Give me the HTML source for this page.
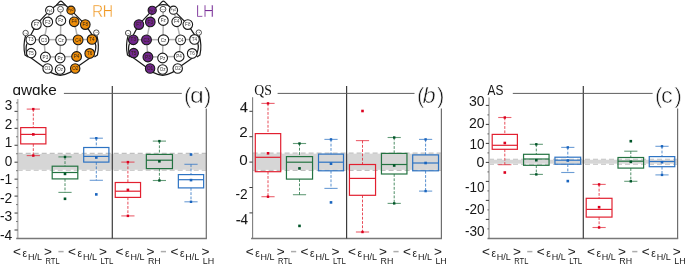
<!DOCTYPE html>
<html><head><meta charset="utf-8"><title>figure</title>
<style>html,body{margin:0;padding:0;background:#fff;}svg{display:block;will-change:transform;}</style>
</head><body>
<svg width="685" height="265" viewBox="0 0 685 265">
<rect width="685" height="265" fill="#fff"/>
<g transform="translate(0.00,0)">
<line x1="30.80" y1="39.80" x2="92.00" y2="39.40" stroke="rgb(178,178,178)" stroke-width="1.5" fill="none"/>
<line x1="60.80" y1="20.50" x2="60.10" y2="58.00" stroke="rgb(178,178,178)" stroke-width="1.5" fill="none"/>
<line x1="47.80" y1="21.90" x2="44.00" y2="39.90" stroke="rgb(178,178,178)" stroke-width="1.5" fill="none"/>
<line x1="44.00" y1="39.90" x2="45.40" y2="57.00" stroke="rgb(178,178,178)" stroke-width="1.5" fill="none"/>
<line x1="74.20" y1="21.80" x2="78.10" y2="39.90" stroke="rgb(178,178,178)" stroke-width="1.5" fill="none"/>
<line x1="78.10" y1="39.90" x2="76.60" y2="56.50" stroke="rgb(178,178,178)" stroke-width="1.5" fill="none"/>
<line x1="45.40" y1="57.00" x2="76.60" y2="56.50" stroke="rgb(178,178,178)" stroke-width="1.5" fill="none"/>
<line x1="49.70" y1="10.30" x2="47.80" y2="21.90" stroke="rgb(178,178,178)" stroke-width="1.5" fill="none"/>
<line x1="71.00" y1="10.20" x2="74.20" y2="21.80" stroke="rgb(178,178,178)" stroke-width="1.5" fill="none"/>
<line x1="60.50" y1="9.20" x2="60.80" y2="20.50" stroke="rgb(178,178,178)" stroke-width="1.5" fill="none"/>
<path d="M30.8,35 L36.4,24.6 L49.7,10.3 L56.4,5.2 L59.4,1.8 Q60.85,0.3 62.3,1.8 L65.5,5.2 L71,10.2 L85.3,24.6 L92,34.6" stroke="rgb(25,25,25)" stroke-width="1.2" fill="none" stroke-linejoin="round"/>
<path d="M56.4,5.2 Q60.9,4.0 65.5,5.2" stroke="rgb(25,25,25)" stroke-width="1.2" fill="none" stroke-linejoin="round"/>
<path d="M27,43.5 Q25.2,48 27,55 L43.5,67 Q50,74 60.2,75.3 Q70.5,74 77,67 L93.5,55.5 Q97,48 95.2,43" stroke="rgb(25,25,25)" stroke-width="1.2" fill="none" stroke-linejoin="round"/>
<path d="M25.6,35.5 C23.8,42 23.8,50 25,55 L28,57" stroke="rgb(25,25,25)" stroke-width="1.2" fill="none" stroke-linejoin="round"/>
<path d="M96.8,35.5 C98.6,42 98.6,50 97.4,55 L94.4,57" stroke="rgb(25,25,25)" stroke-width="1.2" fill="none" stroke-linejoin="round"/>
<circle cx="49.70" cy="10.30" r="4.10" fill="white" stroke="rgb(25,25,25)" stroke-width="1.10"/>
<text x="49.70" y="11.52" font-size="3.4" text-anchor="middle" fill="rgb(60,60,60)" font-family='Liberation Sans'>Fp1</text>
<circle cx="60.50" cy="9.20" r="2.90" fill="white" stroke="rgb(25,25,25)" stroke-width="0.75"/>
<text x="60.50" y="9.92" font-size="2.0" text-anchor="middle" fill="rgb(60,60,60)" font-family='Liberation Sans'>Fpz</text>
<circle cx="71.00" cy="10.20" r="4.10" fill="rgb(238,142,10)" stroke="rgb(25,25,25)" stroke-width="1.10"/>
<text x="71.00" y="11.42" font-size="3.4" text-anchor="middle" fill="rgb(50,35,20)" font-family='Liberation Sans'>Fp2</text>
<circle cx="36.40" cy="24.60" r="4.80" fill="white" stroke="rgb(25,25,25)" stroke-width="1.10"/>
<text x="36.40" y="26.26" font-size="4.6" text-anchor="middle" fill="rgb(60,60,60)" font-family='Liberation Sans'>F7</text>
<circle cx="47.80" cy="21.90" r="4.80" fill="white" stroke="rgb(25,25,25)" stroke-width="1.10"/>
<text x="47.80" y="23.56" font-size="4.6" text-anchor="middle" fill="rgb(60,60,60)" font-family='Liberation Sans'>F3</text>
<circle cx="60.80" cy="20.50" r="4.90" fill="white" stroke="rgb(25,25,25)" stroke-width="1.10"/>
<text x="60.80" y="22.16" font-size="4.6" text-anchor="middle" fill="rgb(60,60,60)" font-family='Liberation Sans'>Fz</text>
<circle cx="74.20" cy="21.80" r="4.80" fill="rgb(238,142,10)" stroke="rgb(25,25,25)" stroke-width="1.10"/>
<text x="74.20" y="23.46" font-size="4.6" text-anchor="middle" fill="rgb(50,35,20)" font-family='Liberation Sans'>F4</text>
<circle cx="85.30" cy="24.60" r="4.80" fill="rgb(238,142,10)" stroke="rgb(25,25,25)" stroke-width="1.10"/>
<text x="85.30" y="26.26" font-size="4.6" text-anchor="middle" fill="rgb(50,35,20)" font-family='Liberation Sans'>F8</text>
<circle cx="25.60" cy="33.00" r="2.70" fill="white" stroke="rgb(25,25,25)" stroke-width="0.75"/>
<text x="25.60" y="33.72" font-size="2.0" text-anchor="middle" fill="rgb(60,60,60)" font-family='Liberation Sans'>A1</text>
<circle cx="96.30" cy="32.60" r="2.70" fill="white" stroke="rgb(25,25,25)" stroke-width="0.75"/>
<text x="96.30" y="33.32" font-size="2.0" text-anchor="middle" fill="rgb(60,60,60)" font-family='Liberation Sans'>A2</text>
<circle cx="30.80" cy="39.80" r="4.80" fill="white" stroke="rgb(25,25,25)" stroke-width="1.10"/>
<text x="30.80" y="41.46" font-size="4.6" text-anchor="middle" fill="rgb(60,60,60)" font-family='Liberation Sans'>T3</text>
<circle cx="44.00" cy="39.90" r="4.90" fill="white" stroke="rgb(25,25,25)" stroke-width="1.10"/>
<text x="44.00" y="41.56" font-size="4.6" text-anchor="middle" fill="rgb(60,60,60)" font-family='Liberation Sans'>C3</text>
<circle cx="61.00" cy="40.10" r="5.20" fill="white" stroke="rgb(25,25,25)" stroke-width="1.10"/>
<text x="61.00" y="41.76" font-size="4.6" text-anchor="middle" fill="rgb(60,60,60)" font-family='Liberation Sans'>Cz</text>
<circle cx="78.10" cy="39.90" r="4.90" fill="rgb(238,142,10)" stroke="rgb(25,25,25)" stroke-width="1.10"/>
<text x="78.10" y="41.56" font-size="4.6" text-anchor="middle" fill="rgb(50,35,20)" font-family='Liberation Sans'>C4</text>
<circle cx="92.00" cy="39.40" r="4.80" fill="rgb(238,142,10)" stroke="rgb(25,25,25)" stroke-width="1.10"/>
<text x="92.00" y="41.06" font-size="4.6" text-anchor="middle" fill="rgb(50,35,20)" font-family='Liberation Sans'>T4</text>
<circle cx="31.20" cy="53.10" r="4.70" fill="white" stroke="rgb(25,25,25)" stroke-width="1.10"/>
<text x="31.20" y="54.76" font-size="4.6" text-anchor="middle" fill="rgb(60,60,60)" font-family='Liberation Sans'>T5</text>
<circle cx="45.40" cy="57.00" r="4.90" fill="white" stroke="rgb(25,25,25)" stroke-width="1.10"/>
<text x="45.40" y="58.66" font-size="4.6" text-anchor="middle" fill="rgb(60,60,60)" font-family='Liberation Sans'>P3</text>
<circle cx="60.10" cy="58.00" r="4.90" fill="white" stroke="rgb(25,25,25)" stroke-width="1.10"/>
<text x="60.10" y="59.66" font-size="4.6" text-anchor="middle" fill="rgb(60,60,60)" font-family='Liberation Sans'>Pz</text>
<circle cx="76.60" cy="56.50" r="4.90" fill="rgb(238,142,10)" stroke="rgb(25,25,25)" stroke-width="1.10"/>
<text x="76.60" y="58.16" font-size="4.6" text-anchor="middle" fill="rgb(50,35,20)" font-family='Liberation Sans'>P4</text>
<circle cx="89.70" cy="53.40" r="4.80" fill="rgb(238,142,10)" stroke="rgb(25,25,25)" stroke-width="1.10"/>
<text x="89.70" y="55.06" font-size="4.6" text-anchor="middle" fill="rgb(50,35,20)" font-family='Liberation Sans'>T6</text>
<circle cx="47.60" cy="68.50" r="4.70" fill="white" stroke="rgb(25,25,25)" stroke-width="1.10"/>
<text x="47.60" y="70.16" font-size="4.6" text-anchor="middle" fill="rgb(60,60,60)" font-family='Liberation Sans'>O1</text>
<circle cx="60.10" cy="69.50" r="4.80" fill="white" stroke="rgb(25,25,25)" stroke-width="1.10"/>
<text x="60.10" y="71.16" font-size="4.6" text-anchor="middle" fill="rgb(60,60,60)" font-family='Liberation Sans'>Oz</text>
<circle cx="75.20" cy="68.50" r="4.70" fill="rgb(238,142,10)" stroke="rgb(25,25,25)" stroke-width="1.10"/>
<text x="75.20" y="70.16" font-size="4.6" text-anchor="middle" fill="rgb(50,35,20)" font-family='Liberation Sans'>O2</text>
</g>
<g transform="translate(102.50,0)">
<line x1="30.80" y1="39.80" x2="92.00" y2="39.40" stroke="rgb(178,178,178)" stroke-width="1.5" fill="none"/>
<line x1="60.80" y1="20.50" x2="60.10" y2="58.00" stroke="rgb(178,178,178)" stroke-width="1.5" fill="none"/>
<line x1="47.80" y1="21.90" x2="44.00" y2="39.90" stroke="rgb(178,178,178)" stroke-width="1.5" fill="none"/>
<line x1="44.00" y1="39.90" x2="45.40" y2="57.00" stroke="rgb(178,178,178)" stroke-width="1.5" fill="none"/>
<line x1="74.20" y1="21.80" x2="78.10" y2="39.90" stroke="rgb(178,178,178)" stroke-width="1.5" fill="none"/>
<line x1="78.10" y1="39.90" x2="76.60" y2="56.50" stroke="rgb(178,178,178)" stroke-width="1.5" fill="none"/>
<line x1="45.40" y1="57.00" x2="76.60" y2="56.50" stroke="rgb(178,178,178)" stroke-width="1.5" fill="none"/>
<line x1="49.70" y1="10.30" x2="47.80" y2="21.90" stroke="rgb(178,178,178)" stroke-width="1.5" fill="none"/>
<line x1="71.00" y1="10.20" x2="74.20" y2="21.80" stroke="rgb(178,178,178)" stroke-width="1.5" fill="none"/>
<line x1="60.50" y1="9.20" x2="60.80" y2="20.50" stroke="rgb(178,178,178)" stroke-width="1.5" fill="none"/>
<path d="M30.8,35 L36.4,24.6 L49.7,10.3 L56.4,5.2 L59.4,1.8 Q60.85,0.3 62.3,1.8 L65.5,5.2 L71,10.2 L85.3,24.6 L92,34.6" stroke="rgb(25,25,25)" stroke-width="1.2" fill="none" stroke-linejoin="round"/>
<path d="M56.4,5.2 Q60.9,4.0 65.5,5.2" stroke="rgb(25,25,25)" stroke-width="1.2" fill="none" stroke-linejoin="round"/>
<path d="M27,43.5 Q25.2,48 27,55 L43.5,67 Q50,74 60.2,75.3 Q70.5,74 77,67 L93.5,55.5 Q97,48 95.2,43" stroke="rgb(25,25,25)" stroke-width="1.2" fill="none" stroke-linejoin="round"/>
<path d="M25.6,35.5 C23.8,42 23.8,50 25,55 L28,57" stroke="rgb(25,25,25)" stroke-width="1.2" fill="none" stroke-linejoin="round"/>
<path d="M96.8,35.5 C98.6,42 98.6,50 97.4,55 L94.4,57" stroke="rgb(25,25,25)" stroke-width="1.2" fill="none" stroke-linejoin="round"/>
<circle cx="49.70" cy="10.30" r="4.10" fill="rgb(112,38,140)" stroke="rgb(25,25,25)" stroke-width="1.10"/>
<text x="49.70" y="11.52" font-size="3.4" text-anchor="middle" fill="rgb(50,35,20)" font-family='Liberation Sans'>Fp1</text>
<circle cx="60.50" cy="9.20" r="2.90" fill="white" stroke="rgb(25,25,25)" stroke-width="0.75"/>
<text x="60.50" y="9.92" font-size="2.0" text-anchor="middle" fill="rgb(60,60,60)" font-family='Liberation Sans'>Fpz</text>
<circle cx="71.00" cy="10.20" r="4.10" fill="white" stroke="rgb(25,25,25)" stroke-width="1.10"/>
<text x="71.00" y="11.42" font-size="3.4" text-anchor="middle" fill="rgb(60,60,60)" font-family='Liberation Sans'>Fp2</text>
<circle cx="36.40" cy="24.60" r="4.80" fill="rgb(112,38,140)" stroke="rgb(25,25,25)" stroke-width="1.10"/>
<text x="36.40" y="26.26" font-size="4.6" text-anchor="middle" fill="rgb(50,35,20)" font-family='Liberation Sans'>F7</text>
<circle cx="47.80" cy="21.90" r="4.80" fill="rgb(112,38,140)" stroke="rgb(25,25,25)" stroke-width="1.10"/>
<text x="47.80" y="23.56" font-size="4.6" text-anchor="middle" fill="rgb(50,35,20)" font-family='Liberation Sans'>F3</text>
<circle cx="60.80" cy="20.50" r="4.90" fill="white" stroke="rgb(25,25,25)" stroke-width="1.10"/>
<text x="60.80" y="22.16" font-size="4.6" text-anchor="middle" fill="rgb(60,60,60)" font-family='Liberation Sans'>Fz</text>
<circle cx="74.20" cy="21.80" r="4.80" fill="white" stroke="rgb(25,25,25)" stroke-width="1.10"/>
<text x="74.20" y="23.46" font-size="4.6" text-anchor="middle" fill="rgb(60,60,60)" font-family='Liberation Sans'>F4</text>
<circle cx="85.30" cy="24.60" r="4.80" fill="white" stroke="rgb(25,25,25)" stroke-width="1.10"/>
<text x="85.30" y="26.26" font-size="4.6" text-anchor="middle" fill="rgb(60,60,60)" font-family='Liberation Sans'>F8</text>
<circle cx="25.60" cy="33.00" r="2.70" fill="white" stroke="rgb(25,25,25)" stroke-width="0.75"/>
<text x="25.60" y="33.72" font-size="2.0" text-anchor="middle" fill="rgb(60,60,60)" font-family='Liberation Sans'>A1</text>
<circle cx="96.30" cy="32.60" r="2.70" fill="white" stroke="rgb(25,25,25)" stroke-width="0.75"/>
<text x="96.30" y="33.32" font-size="2.0" text-anchor="middle" fill="rgb(60,60,60)" font-family='Liberation Sans'>A2</text>
<circle cx="30.80" cy="39.80" r="4.80" fill="rgb(112,38,140)" stroke="rgb(25,25,25)" stroke-width="1.10"/>
<text x="30.80" y="41.46" font-size="4.6" text-anchor="middle" fill="rgb(50,35,20)" font-family='Liberation Sans'>T3</text>
<circle cx="44.00" cy="39.90" r="4.90" fill="rgb(112,38,140)" stroke="rgb(25,25,25)" stroke-width="1.10"/>
<text x="44.00" y="41.56" font-size="4.6" text-anchor="middle" fill="rgb(50,35,20)" font-family='Liberation Sans'>C3</text>
<circle cx="61.00" cy="40.10" r="5.20" fill="white" stroke="rgb(25,25,25)" stroke-width="1.10"/>
<text x="61.00" y="41.76" font-size="4.6" text-anchor="middle" fill="rgb(60,60,60)" font-family='Liberation Sans'>Cz</text>
<circle cx="78.10" cy="39.90" r="4.90" fill="white" stroke="rgb(25,25,25)" stroke-width="1.10"/>
<text x="78.10" y="41.56" font-size="4.6" text-anchor="middle" fill="rgb(60,60,60)" font-family='Liberation Sans'>C4</text>
<circle cx="92.00" cy="39.40" r="4.80" fill="white" stroke="rgb(25,25,25)" stroke-width="1.10"/>
<text x="92.00" y="41.06" font-size="4.6" text-anchor="middle" fill="rgb(60,60,60)" font-family='Liberation Sans'>T4</text>
<circle cx="31.20" cy="53.10" r="4.70" fill="rgb(112,38,140)" stroke="rgb(25,25,25)" stroke-width="1.10"/>
<text x="31.20" y="54.76" font-size="4.6" text-anchor="middle" fill="rgb(50,35,20)" font-family='Liberation Sans'>T5</text>
<circle cx="45.40" cy="57.00" r="4.90" fill="rgb(112,38,140)" stroke="rgb(25,25,25)" stroke-width="1.10"/>
<text x="45.40" y="58.66" font-size="4.6" text-anchor="middle" fill="rgb(50,35,20)" font-family='Liberation Sans'>P3</text>
<circle cx="60.10" cy="58.00" r="4.90" fill="white" stroke="rgb(25,25,25)" stroke-width="1.10"/>
<text x="60.10" y="59.66" font-size="4.6" text-anchor="middle" fill="rgb(60,60,60)" font-family='Liberation Sans'>Pz</text>
<circle cx="76.60" cy="56.50" r="4.90" fill="white" stroke="rgb(25,25,25)" stroke-width="1.10"/>
<text x="76.60" y="58.16" font-size="4.6" text-anchor="middle" fill="rgb(60,60,60)" font-family='Liberation Sans'>P4</text>
<circle cx="89.70" cy="53.40" r="4.80" fill="white" stroke="rgb(25,25,25)" stroke-width="1.10"/>
<text x="89.70" y="55.06" font-size="4.6" text-anchor="middle" fill="rgb(60,60,60)" font-family='Liberation Sans'>T6</text>
<circle cx="47.60" cy="68.50" r="4.70" fill="rgb(112,38,140)" stroke="rgb(25,25,25)" stroke-width="1.10"/>
<text x="47.60" y="70.16" font-size="4.6" text-anchor="middle" fill="rgb(50,35,20)" font-family='Liberation Sans'>O1</text>
<circle cx="60.10" cy="69.50" r="4.80" fill="white" stroke="rgb(25,25,25)" stroke-width="1.10"/>
<text x="60.10" y="71.16" font-size="4.6" text-anchor="middle" fill="rgb(60,60,60)" font-family='Liberation Sans'>Oz</text>
<circle cx="75.20" cy="68.50" r="4.70" fill="white" stroke="rgb(25,25,25)" stroke-width="1.10"/>
<text x="75.20" y="70.16" font-size="4.6" text-anchor="middle" fill="rgb(60,60,60)" font-family='Liberation Sans'>O2</text>
</g>
<text x="92.0" y="16.8" font-size="16" fill="rgb(240,150,30)" font-family='Liberation Sans' textLength="11.2" lengthAdjust="spacingAndGlyphs" stroke="white" stroke-width="0.35" paint-order="fill stroke">R</text>
<text x="102.8" y="16.8" font-size="16" fill="rgb(240,150,30)" font-family='Liberation Sans' textLength="10.3" lengthAdjust="spacingAndGlyphs" stroke="white" stroke-width="0.35" paint-order="fill stroke">H</text>
<text x="196.0" y="16.6" font-size="16" fill="rgb(120,45,150)" font-family='Liberation Sans' textLength="6.8" lengthAdjust="spacingAndGlyphs" stroke="white" stroke-width="0.35" paint-order="fill stroke">L</text>
<text x="203.0" y="16.6" font-size="16" fill="rgb(120,45,150)" font-family='Liberation Sans' textLength="11.3" lengthAdjust="spacingAndGlyphs" stroke="white" stroke-width="0.35" paint-order="fill stroke">H</text>
<rect x="17.70" y="153.95" width="188.60" height="15.80" fill="rgb(214,214,214)"/>
<line x1="17.70" y1="153.40" x2="206.30" y2="153.40" stroke="rgb(192,192,192)" stroke-width="1.1" stroke-dasharray="5,3"/>
<line x1="17.70" y1="170.30" x2="206.30" y2="170.30" stroke="rgb(192,192,192)" stroke-width="1.1" stroke-dasharray="5,3"/>
<line x1="33.30" y1="109.10" x2="33.30" y2="127.60" stroke="rgb(226,32,48)" stroke-width="1" stroke-dasharray="2.8,1.5" stroke-opacity="0.8"/>
<line x1="33.30" y1="143.90" x2="33.30" y2="155.60" stroke="rgb(226,32,48)" stroke-width="1" stroke-dasharray="2.8,1.5" stroke-opacity="0.8"/>
<line x1="26.70" y1="109.10" x2="39.90" y2="109.10" stroke="rgb(226,32,48)" stroke-width="1.1" stroke-opacity="0.7"/>
<line x1="26.70" y1="155.60" x2="39.90" y2="155.60" stroke="rgb(226,32,48)" stroke-width="1.1" stroke-opacity="0.7"/>
<rect x="20.70" y="127.60" width="25.20" height="16.30" fill="none" stroke="rgb(226,32,48)" stroke-width="1.2"/>
<line x1="20.70" y1="134.40" x2="45.90" y2="134.40" stroke="rgb(226,32,48)" stroke-width="1.2"/>
<rect x="32.00" y="133.10" width="2.6" height="2.6" fill="rgb(220,0,30)"/>
<rect x="32.10" y="107.90" width="2.4" height="2.4" fill="rgb(220,0,30)"/>
<rect x="32.10" y="154.40" width="2.4" height="2.4" fill="rgb(220,0,30)"/>
<line x1="65.00" y1="156.90" x2="65.00" y2="166.20" stroke="rgb(35,115,65)" stroke-width="1" stroke-dasharray="2.8,1.5" stroke-opacity="0.8"/>
<line x1="65.00" y1="178.90" x2="65.00" y2="192.40" stroke="rgb(35,115,65)" stroke-width="1" stroke-dasharray="2.8,1.5" stroke-opacity="0.8"/>
<line x1="58.40" y1="156.90" x2="71.60" y2="156.90" stroke="rgb(35,115,65)" stroke-width="1.1" stroke-opacity="0.7"/>
<line x1="58.40" y1="192.40" x2="71.60" y2="192.40" stroke="rgb(35,115,65)" stroke-width="1.1" stroke-opacity="0.7"/>
<rect x="52.20" y="166.20" width="25.60" height="12.70" fill="none" stroke="rgb(35,115,65)" stroke-width="1.2"/>
<line x1="52.20" y1="172.50" x2="77.80" y2="172.50" stroke="rgb(35,115,65)" stroke-width="1.2"/>
<rect x="63.70" y="172.60" width="2.6" height="2.6" fill="rgb(0,85,40)"/>
<rect x="63.80" y="155.70" width="2.4" height="2.4" fill="rgb(0,85,40)"/>
<rect x="63.70" y="197.50" width="2.6" height="2.6" fill="rgb(0,85,40)"/>
<line x1="96.30" y1="138.20" x2="96.30" y2="147.50" stroke="rgb(45,115,195)" stroke-width="1" stroke-dasharray="2.8,1.5" stroke-opacity="0.8"/>
<line x1="96.30" y1="162.10" x2="96.30" y2="180.30" stroke="rgb(45,115,195)" stroke-width="1" stroke-dasharray="2.8,1.5" stroke-opacity="0.8"/>
<line x1="89.70" y1="138.20" x2="102.90" y2="138.20" stroke="rgb(45,115,195)" stroke-width="1.1" stroke-opacity="0.7"/>
<line x1="89.70" y1="180.30" x2="102.90" y2="180.30" stroke="rgb(45,115,195)" stroke-width="1.1" stroke-opacity="0.7"/>
<rect x="83.70" y="147.50" width="25.20" height="14.60" fill="none" stroke="rgb(45,115,195)" stroke-width="1.2"/>
<line x1="83.70" y1="156.40" x2="108.90" y2="156.40" stroke="rgb(45,115,195)" stroke-width="1.2"/>
<rect x="95.00" y="156.20" width="2.6" height="2.6" fill="rgb(25,100,190)"/>
<rect x="95.10" y="137.00" width="2.4" height="2.4" fill="rgb(25,100,190)"/>
<rect x="95.00" y="193.10" width="2.6" height="2.6" fill="rgb(25,100,190)"/>
<line x1="127.90" y1="162.10" x2="127.90" y2="182.50" stroke="rgb(226,32,48)" stroke-width="1" stroke-dasharray="2.8,1.5" stroke-opacity="0.8"/>
<line x1="127.90" y1="197.40" x2="127.90" y2="215.90" stroke="rgb(226,32,48)" stroke-width="1" stroke-dasharray="2.8,1.5" stroke-opacity="0.8"/>
<line x1="121.30" y1="162.10" x2="134.50" y2="162.10" stroke="rgb(226,32,48)" stroke-width="1.1" stroke-opacity="0.7"/>
<line x1="121.30" y1="215.90" x2="134.50" y2="215.90" stroke="rgb(226,32,48)" stroke-width="1.1" stroke-opacity="0.7"/>
<rect x="115.25" y="182.50" width="25.30" height="14.90" fill="none" stroke="rgb(226,32,48)" stroke-width="1.2"/>
<line x1="115.25" y1="191.20" x2="140.55" y2="191.20" stroke="rgb(226,32,48)" stroke-width="1.2"/>
<rect x="126.60" y="188.60" width="2.6" height="2.6" fill="rgb(220,0,30)"/>
<rect x="126.70" y="160.90" width="2.4" height="2.4" fill="rgb(220,0,30)"/>
<rect x="126.70" y="214.70" width="2.4" height="2.4" fill="rgb(220,0,30)"/>
<line x1="159.40" y1="141.10" x2="159.40" y2="154.40" stroke="rgb(35,115,65)" stroke-width="1" stroke-dasharray="2.8,1.5" stroke-opacity="0.8"/>
<line x1="159.40" y1="168.60" x2="159.40" y2="180.50" stroke="rgb(35,115,65)" stroke-width="1" stroke-dasharray="2.8,1.5" stroke-opacity="0.8"/>
<line x1="152.80" y1="141.10" x2="166.00" y2="141.10" stroke="rgb(35,115,65)" stroke-width="1.1" stroke-opacity="0.7"/>
<line x1="152.80" y1="180.50" x2="166.00" y2="180.50" stroke="rgb(35,115,65)" stroke-width="1.1" stroke-opacity="0.7"/>
<rect x="146.35" y="154.40" width="26.10" height="14.20" fill="none" stroke="rgb(35,115,65)" stroke-width="1.2"/>
<line x1="146.35" y1="160.20" x2="172.45" y2="160.20" stroke="rgb(35,115,65)" stroke-width="1.2"/>
<rect x="158.10" y="160.00" width="2.6" height="2.6" fill="rgb(0,85,40)"/>
<rect x="158.20" y="139.90" width="2.4" height="2.4" fill="rgb(0,85,40)"/>
<rect x="158.20" y="179.30" width="2.4" height="2.4" fill="rgb(0,85,40)"/>
<line x1="191.00" y1="164.30" x2="191.00" y2="174.60" stroke="rgb(45,115,195)" stroke-width="1" stroke-dasharray="2.8,1.5" stroke-opacity="0.8"/>
<line x1="191.00" y1="187.90" x2="191.00" y2="201.80" stroke="rgb(45,115,195)" stroke-width="1" stroke-dasharray="2.8,1.5" stroke-opacity="0.8"/>
<line x1="184.40" y1="164.30" x2="197.60" y2="164.30" stroke="rgb(45,115,195)" stroke-width="1.1" stroke-opacity="0.7"/>
<line x1="184.40" y1="201.80" x2="197.60" y2="201.80" stroke="rgb(45,115,195)" stroke-width="1.1" stroke-opacity="0.7"/>
<rect x="178.35" y="174.60" width="25.30" height="13.30" fill="none" stroke="rgb(45,115,195)" stroke-width="1.2"/>
<line x1="178.35" y1="179.70" x2="203.65" y2="179.70" stroke="rgb(45,115,195)" stroke-width="1.2"/>
<rect x="189.70" y="178.80" width="2.6" height="2.6" fill="rgb(25,100,190)"/>
<rect x="189.80" y="200.60" width="2.4" height="2.4" fill="rgb(25,100,190)"/>
<rect x="189.70" y="153.20" width="2.6" height="2.6" fill="rgb(25,100,190)"/>
<line x1="17.70" y1="99.00" x2="17.70" y2="238.50" stroke="rgb(185,185,185)" stroke-width="1.70"/>
<line x1="16.20" y1="238.50" x2="206.90" y2="238.50" stroke="rgb(120,120,120)" stroke-width="1.4"/>
<line x1="206.30" y1="108.50" x2="206.30" y2="238.50" stroke="rgb(110,110,110)" stroke-width="1.2"/>
<line x1="112.30" y1="85.90" x2="112.30" y2="238.50" stroke="rgb(60,60,60)" stroke-width="1.2"/>
<line x1="63.90" y1="93.4" x2="181.80" y2="93.4" stroke="rgb(95,95,95)" stroke-width="1"/>
<line x1="14.50" y1="111.35" x2="17.70" y2="111.35" stroke="rgb(60,60,60)" stroke-width="1"/>
<line x1="14.50" y1="128.30" x2="17.70" y2="128.30" stroke="rgb(60,60,60)" stroke-width="1"/>
<line x1="14.50" y1="145.25" x2="17.70" y2="145.25" stroke="rgb(60,60,60)" stroke-width="1"/>
<line x1="14.50" y1="162.20" x2="17.70" y2="162.20" stroke="rgb(60,60,60)" stroke-width="1"/>
<line x1="14.50" y1="179.15" x2="17.70" y2="179.15" stroke="rgb(60,60,60)" stroke-width="1"/>
<line x1="14.50" y1="196.10" x2="17.70" y2="196.10" stroke="rgb(60,60,60)" stroke-width="1"/>
<line x1="14.50" y1="213.05" x2="17.70" y2="213.05" stroke="rgb(60,60,60)" stroke-width="1"/>
<line x1="14.50" y1="230.00" x2="17.70" y2="230.00" stroke="rgb(60,60,60)" stroke-width="1"/>
<line x1="16.10" y1="102.88" x2="17.70" y2="102.88" stroke="rgb(90,90,90)" stroke-width="0.9"/>
<line x1="16.10" y1="119.82" x2="17.70" y2="119.82" stroke="rgb(90,90,90)" stroke-width="0.9"/>
<line x1="16.10" y1="136.77" x2="17.70" y2="136.77" stroke="rgb(90,90,90)" stroke-width="0.9"/>
<line x1="16.10" y1="153.72" x2="17.70" y2="153.72" stroke="rgb(90,90,90)" stroke-width="0.9"/>
<line x1="16.10" y1="170.67" x2="17.70" y2="170.67" stroke="rgb(90,90,90)" stroke-width="0.9"/>
<line x1="16.10" y1="187.62" x2="17.70" y2="187.62" stroke="rgb(90,90,90)" stroke-width="0.9"/>
<line x1="16.10" y1="204.57" x2="17.70" y2="204.57" stroke="rgb(90,90,90)" stroke-width="0.9"/>
<line x1="16.10" y1="221.52" x2="17.70" y2="221.52" stroke="rgb(90,90,90)" stroke-width="0.9"/>
<text x="12.30" y="110.20" font-size="15.2" text-anchor="end" fill="rgb(22,22,22)" font-family='Liberation Sans' textLength="7.50" lengthAdjust="spacingAndGlyphs" >3</text>
<text x="12.30" y="128.70" font-size="15.2" text-anchor="end" fill="rgb(22,22,22)" font-family='Liberation Sans' textLength="7.50" lengthAdjust="spacingAndGlyphs" >2</text>
<text x="12.30" y="147.20" font-size="15.2" text-anchor="end" fill="rgb(22,22,22)" font-family='Liberation Sans' textLength="7.50" lengthAdjust="spacingAndGlyphs" >1</text>
<text x="12.30" y="165.70" font-size="15.2" text-anchor="end" fill="rgb(22,22,22)" font-family='Liberation Sans' textLength="7.50" lengthAdjust="spacingAndGlyphs" >0</text>
<text x="12.30" y="184.20" font-size="15.2" text-anchor="end" fill="rgb(22,22,22)" font-family='Liberation Sans' textLength="12.30" lengthAdjust="spacingAndGlyphs" >-1</text>
<text x="12.30" y="202.70" font-size="15.2" text-anchor="end" fill="rgb(22,22,22)" font-family='Liberation Sans' textLength="12.30" lengthAdjust="spacingAndGlyphs" >-2</text>
<text x="12.30" y="221.20" font-size="15.2" text-anchor="end" fill="rgb(22,22,22)" font-family='Liberation Sans' textLength="12.30" lengthAdjust="spacingAndGlyphs" >-3</text>
<text x="12.30" y="239.70" font-size="15.2" text-anchor="end" fill="rgb(22,22,22)" font-family='Liberation Sans' textLength="12.30" lengthAdjust="spacingAndGlyphs" >-4</text>
<text x="12.50" y="95.30" font-size="15.5" fill="rgb(20,20,20)" font-family='Liberation Sans' textLength="44.30" lengthAdjust="spacingAndGlyphs">&#593;w&#593;ke</text>
<text x="184.00" y="103.1" font-size="22" fill="rgb(20,20,20)" font-family='Liberation Sans' stroke="white" stroke-width="0.55" paint-order="fill stroke">(</text>
<text x="189.90" y="103.1" font-size="22" fill="rgb(20,20,20)" font-family='Liberation Sans'  stroke="white" stroke-width="0.55" paint-order="fill stroke" textLength="13.80" lengthAdjust="spacingAndGlyphs">&#593;</text>
<text x="204.00" y="103.1" font-size="22" fill="rgb(20,20,20)" font-family='Liberation Sans' stroke="white" stroke-width="0.55" paint-order="fill stroke">)</text>
<text x="13.10" y="256.4" font-size="13.6" fill="rgb(25,25,25)" font-family='Liberation Sans'>&lt;</text>
<text x="22.60" y="256.6" font-size="10" fill="rgb(25,25,25)" font-family='Liberation Sans' textLength="4.6" lengthAdjust="spacingAndGlyphs">&#949;</text>
<text x="28.00" y="259.9" font-size="8.2" fill="rgb(25,25,25)" font-family='Liberation Sans' textLength="14" lengthAdjust="spacingAndGlyphs">H/L</text>
<text x="44.10" y="255.8" font-size="13.6" fill="rgb(25,25,25)" font-family='Liberation Sans'>&gt;</text>
<text x="45.50" y="264.1" font-size="9.3" fill="rgb(25,25,25)" font-family='Liberation Sans' textLength="14.10" lengthAdjust="spacingAndGlyphs">RTL</text>
<line x1="58.40" y1="251.6" x2="63.60" y2="251.6" stroke="rgb(172,172,172)" stroke-width="1.5"/>
<text x="68.00" y="256.4" font-size="13.6" fill="rgb(25,25,25)" font-family='Liberation Sans'>&lt;</text>
<text x="77.50" y="256.6" font-size="10" fill="rgb(25,25,25)" font-family='Liberation Sans' textLength="4.6" lengthAdjust="spacingAndGlyphs">&#949;</text>
<text x="82.90" y="259.9" font-size="8.2" fill="rgb(25,25,25)" font-family='Liberation Sans' textLength="14" lengthAdjust="spacingAndGlyphs">H/L</text>
<text x="99.00" y="255.8" font-size="13.6" fill="rgb(25,25,25)" font-family='Liberation Sans'>&gt;</text>
<text x="100.40" y="264.1" font-size="9.3" fill="rgb(25,25,25)" font-family='Liberation Sans' textLength="13.00" lengthAdjust="spacingAndGlyphs">LTL</text>
<text x="115.50" y="256.4" font-size="13.6" fill="rgb(25,25,25)" font-family='Liberation Sans'>&lt;</text>
<text x="125.00" y="256.6" font-size="10" fill="rgb(25,25,25)" font-family='Liberation Sans' textLength="4.6" lengthAdjust="spacingAndGlyphs">&#949;</text>
<text x="130.40" y="259.9" font-size="8.2" fill="rgb(25,25,25)" font-family='Liberation Sans' textLength="14" lengthAdjust="spacingAndGlyphs">H/L</text>
<text x="146.50" y="255.8" font-size="13.6" fill="rgb(25,25,25)" font-family='Liberation Sans'>&gt;</text>
<text x="147.90" y="264.1" font-size="9.3" fill="rgb(25,25,25)" font-family='Liberation Sans' textLength="12.80" lengthAdjust="spacingAndGlyphs">RH</text>
<line x1="160.80" y1="251.6" x2="166.00" y2="251.6" stroke="rgb(172,172,172)" stroke-width="1.5"/>
<text x="170.40" y="256.4" font-size="13.6" fill="rgb(25,25,25)" font-family='Liberation Sans'>&lt;</text>
<text x="179.90" y="256.6" font-size="10" fill="rgb(25,25,25)" font-family='Liberation Sans' textLength="4.6" lengthAdjust="spacingAndGlyphs">&#949;</text>
<text x="185.30" y="259.9" font-size="8.2" fill="rgb(25,25,25)" font-family='Liberation Sans' textLength="14" lengthAdjust="spacingAndGlyphs">H/L</text>
<text x="201.40" y="255.8" font-size="13.6" fill="rgb(25,25,25)" font-family='Liberation Sans'>&gt;</text>
<text x="202.80" y="264.1" font-size="9.3" fill="rgb(25,25,25)" font-family='Liberation Sans' textLength="11.40" lengthAdjust="spacingAndGlyphs">LH</text>
<rect x="252.60" y="153.65" width="188.80" height="16.20" fill="rgb(214,214,214)"/>
<line x1="252.60" y1="153.10" x2="441.40" y2="153.10" stroke="rgb(192,192,192)" stroke-width="1.1" stroke-dasharray="5,3"/>
<line x1="252.60" y1="170.40" x2="441.40" y2="170.40" stroke="rgb(192,192,192)" stroke-width="1.1" stroke-dasharray="5,3"/>
<line x1="268.00" y1="103.40" x2="268.00" y2="133.60" stroke="rgb(226,32,48)" stroke-width="1" stroke-dasharray="2.8,1.5" stroke-opacity="0.8"/>
<line x1="268.00" y1="171.70" x2="268.00" y2="196.70" stroke="rgb(226,32,48)" stroke-width="1" stroke-dasharray="2.8,1.5" stroke-opacity="0.8"/>
<line x1="261.40" y1="103.40" x2="274.60" y2="103.40" stroke="rgb(226,32,48)" stroke-width="1.1" stroke-opacity="0.7"/>
<line x1="261.40" y1="196.70" x2="274.60" y2="196.70" stroke="rgb(226,32,48)" stroke-width="1.1" stroke-opacity="0.7"/>
<rect x="255.30" y="133.60" width="25.40" height="38.10" fill="none" stroke="rgb(226,32,48)" stroke-width="1.2"/>
<line x1="255.30" y1="157.30" x2="280.70" y2="157.30" stroke="rgb(226,32,48)" stroke-width="1.2"/>
<rect x="266.70" y="152.00" width="2.6" height="2.6" fill="rgb(220,0,30)"/>
<rect x="266.80" y="102.20" width="2.4" height="2.4" fill="rgb(220,0,30)"/>
<rect x="266.80" y="195.50" width="2.4" height="2.4" fill="rgb(220,0,30)"/>
<line x1="299.50" y1="143.50" x2="299.50" y2="156.60" stroke="rgb(35,115,65)" stroke-width="1" stroke-dasharray="2.8,1.5" stroke-opacity="0.8"/>
<line x1="299.50" y1="179.10" x2="299.50" y2="194.70" stroke="rgb(35,115,65)" stroke-width="1" stroke-dasharray="2.8,1.5" stroke-opacity="0.8"/>
<line x1="292.90" y1="143.50" x2="306.10" y2="143.50" stroke="rgb(35,115,65)" stroke-width="1.1" stroke-opacity="0.7"/>
<line x1="292.90" y1="194.70" x2="306.10" y2="194.70" stroke="rgb(35,115,65)" stroke-width="1.1" stroke-opacity="0.7"/>
<rect x="286.45" y="156.60" width="26.10" height="22.50" fill="none" stroke="rgb(35,115,65)" stroke-width="1.2"/>
<line x1="286.45" y1="162.20" x2="312.55" y2="162.20" stroke="rgb(35,115,65)" stroke-width="1.2"/>
<rect x="298.20" y="167.10" width="2.6" height="2.6" fill="rgb(0,85,40)"/>
<rect x="298.30" y="142.30" width="2.4" height="2.4" fill="rgb(0,85,40)"/>
<rect x="298.20" y="224.60" width="2.6" height="2.6" fill="rgb(0,85,40)"/>
<line x1="331.00" y1="139.40" x2="331.00" y2="154.10" stroke="rgb(45,115,195)" stroke-width="1" stroke-dasharray="2.8,1.5" stroke-opacity="0.8"/>
<line x1="331.00" y1="170.80" x2="331.00" y2="188.40" stroke="rgb(45,115,195)" stroke-width="1" stroke-dasharray="2.8,1.5" stroke-opacity="0.8"/>
<line x1="324.40" y1="139.40" x2="337.60" y2="139.40" stroke="rgb(45,115,195)" stroke-width="1.1" stroke-opacity="0.7"/>
<line x1="324.40" y1="188.40" x2="337.60" y2="188.40" stroke="rgb(45,115,195)" stroke-width="1.1" stroke-opacity="0.7"/>
<rect x="318.50" y="154.10" width="25.00" height="16.70" fill="none" stroke="rgb(45,115,195)" stroke-width="1.2"/>
<line x1="318.50" y1="162.20" x2="343.50" y2="162.20" stroke="rgb(45,115,195)" stroke-width="1.2"/>
<rect x="329.70" y="162.40" width="2.6" height="2.6" fill="rgb(25,100,190)"/>
<rect x="329.80" y="138.20" width="2.4" height="2.4" fill="rgb(25,100,190)"/>
<rect x="329.70" y="201.10" width="2.6" height="2.6" fill="rgb(25,100,190)"/>
<line x1="362.50" y1="140.60" x2="362.50" y2="164.50" stroke="rgb(226,32,48)" stroke-width="1" stroke-dasharray="2.8,1.5" stroke-opacity="0.8"/>
<line x1="362.50" y1="195.30" x2="362.50" y2="232.00" stroke="rgb(226,32,48)" stroke-width="1" stroke-dasharray="2.8,1.5" stroke-opacity="0.8"/>
<line x1="355.90" y1="140.60" x2="369.10" y2="140.60" stroke="rgb(226,32,48)" stroke-width="1.1" stroke-opacity="0.7"/>
<line x1="355.90" y1="232.00" x2="369.10" y2="232.00" stroke="rgb(226,32,48)" stroke-width="1.1" stroke-opacity="0.7"/>
<rect x="349.45" y="164.50" width="26.10" height="30.80" fill="none" stroke="rgb(226,32,48)" stroke-width="1.2"/>
<line x1="349.45" y1="178.40" x2="375.55" y2="178.40" stroke="rgb(226,32,48)" stroke-width="1.2"/>
<rect x="361.30" y="230.80" width="2.4" height="2.4" fill="rgb(220,0,30)"/>
<rect x="361.20" y="109.70" width="2.6" height="2.6" fill="rgb(220,0,30)"/>
<line x1="394.20" y1="137.50" x2="394.20" y2="153.40" stroke="rgb(35,115,65)" stroke-width="1" stroke-dasharray="2.8,1.5" stroke-opacity="0.8"/>
<line x1="394.20" y1="174.00" x2="394.20" y2="203.40" stroke="rgb(35,115,65)" stroke-width="1" stroke-dasharray="2.8,1.5" stroke-opacity="0.8"/>
<line x1="387.60" y1="137.50" x2="400.80" y2="137.50" stroke="rgb(35,115,65)" stroke-width="1.1" stroke-opacity="0.7"/>
<line x1="387.60" y1="203.40" x2="400.80" y2="203.40" stroke="rgb(35,115,65)" stroke-width="1.1" stroke-opacity="0.7"/>
<rect x="381.45" y="153.40" width="25.50" height="20.60" fill="none" stroke="rgb(35,115,65)" stroke-width="1.2"/>
<line x1="381.45" y1="164.50" x2="406.95" y2="164.50" stroke="rgb(35,115,65)" stroke-width="1.2"/>
<rect x="392.90" y="164.20" width="2.6" height="2.6" fill="rgb(0,85,40)"/>
<rect x="393.00" y="136.30" width="2.4" height="2.4" fill="rgb(0,85,40)"/>
<rect x="393.00" y="202.20" width="2.4" height="2.4" fill="rgb(0,85,40)"/>
<line x1="425.60" y1="139.40" x2="425.60" y2="154.90" stroke="rgb(45,115,195)" stroke-width="1" stroke-dasharray="2.8,1.5" stroke-opacity="0.8"/>
<line x1="425.60" y1="170.80" x2="425.60" y2="191.10" stroke="rgb(45,115,195)" stroke-width="1" stroke-dasharray="2.8,1.5" stroke-opacity="0.8"/>
<line x1="419.00" y1="139.40" x2="432.20" y2="139.40" stroke="rgb(45,115,195)" stroke-width="1.1" stroke-opacity="0.7"/>
<line x1="419.00" y1="191.10" x2="432.20" y2="191.10" stroke="rgb(45,115,195)" stroke-width="1.1" stroke-opacity="0.7"/>
<rect x="412.70" y="154.90" width="25.80" height="15.90" fill="none" stroke="rgb(45,115,195)" stroke-width="1.2"/>
<line x1="412.70" y1="163.00" x2="438.50" y2="163.00" stroke="rgb(45,115,195)" stroke-width="1.2"/>
<rect x="424.30" y="161.70" width="2.6" height="2.6" fill="rgb(25,100,190)"/>
<rect x="424.40" y="138.20" width="2.4" height="2.4" fill="rgb(25,100,190)"/>
<rect x="424.40" y="189.90" width="2.4" height="2.4" fill="rgb(25,100,190)"/>
<line x1="252.60" y1="97.30" x2="252.60" y2="238.50" stroke="rgb(125,125,125)" stroke-width="1.10"/>
<line x1="251.10" y1="238.50" x2="442.00" y2="238.50" stroke="rgb(120,120,120)" stroke-width="1.4"/>
<line x1="441.40" y1="108.50" x2="441.40" y2="238.50" stroke="rgb(110,110,110)" stroke-width="1.2"/>
<line x1="346.60" y1="85.90" x2="346.60" y2="238.50" stroke="rgb(60,60,60)" stroke-width="1.2"/>
<line x1="277.60" y1="93.4" x2="414.50" y2="93.4" stroke="rgb(95,95,95)" stroke-width="1"/>
<line x1="249.40" y1="111.30" x2="252.60" y2="111.30" stroke="rgb(60,60,60)" stroke-width="1"/>
<line x1="249.40" y1="136.70" x2="252.60" y2="136.70" stroke="rgb(60,60,60)" stroke-width="1"/>
<line x1="249.40" y1="162.10" x2="252.60" y2="162.10" stroke="rgb(60,60,60)" stroke-width="1"/>
<line x1="249.40" y1="187.50" x2="252.60" y2="187.50" stroke="rgb(60,60,60)" stroke-width="1"/>
<line x1="249.40" y1="212.90" x2="252.60" y2="212.90" stroke="rgb(60,60,60)" stroke-width="1"/>
<text x="247.60" y="111.90" font-size="15.2" text-anchor="end" fill="rgb(22,22,22)" font-family='Liberation Serif'  stroke="rgb(30,30,30)" stroke-width="0.25">4</text>
<text x="247.60" y="137.40" font-size="15.2" text-anchor="end" fill="rgb(22,22,22)" font-family='Liberation Sans'  >2</text>
<text x="247.60" y="165.40" font-size="15.2" text-anchor="end" fill="rgb(22,22,22)" font-family='Liberation Sans'  >0</text>
<text x="247.60" y="199.40" font-size="15.2" text-anchor="end" fill="rgb(22,22,22)" font-family='Liberation Sans' textLength="12.20" lengthAdjust="spacingAndGlyphs" >-2</text>
<text x="247.60" y="223.70" font-size="15.2" text-anchor="end" fill="rgb(22,22,22)" font-family='Liberation Serif' textLength="11.60" lengthAdjust="spacingAndGlyphs" stroke="rgb(30,30,30)" stroke-width="0.25">-4</text>
<text x="254.20" y="95.00" font-size="15.6" fill="rgb(20,20,20)" font-family='Liberation Serif' textLength="17.60" lengthAdjust="spacingAndGlyphs">QS</text>
<text x="417.00" y="103.1" font-size="22" fill="rgb(20,20,20)" font-family='Liberation Sans' stroke="white" stroke-width="0.55" paint-order="fill stroke">(</text>
<text x="422.60" y="103.1" font-size="22" fill="rgb(20,20,20)" font-family='Liberation Sans' font-style="italic" stroke="white" stroke-width="0.55" paint-order="fill stroke" textLength="13.20" lengthAdjust="spacingAndGlyphs">b</text>
<text x="437.00" y="103.1" font-size="22" fill="rgb(20,20,20)" font-family='Liberation Sans' stroke="white" stroke-width="0.55" paint-order="fill stroke">)</text>
<text x="245.70" y="256.4" font-size="13.6" fill="rgb(25,25,25)" font-family='Liberation Sans'>&lt;</text>
<text x="255.20" y="256.6" font-size="10" fill="rgb(25,25,25)" font-family='Liberation Sans' textLength="4.6" lengthAdjust="spacingAndGlyphs">&#949;</text>
<text x="260.60" y="259.9" font-size="8.2" fill="rgb(25,25,25)" font-family='Liberation Sans' textLength="14" lengthAdjust="spacingAndGlyphs">H/L</text>
<text x="276.70" y="255.8" font-size="13.6" fill="rgb(25,25,25)" font-family='Liberation Sans'>&gt;</text>
<text x="278.10" y="264.1" font-size="9.3" fill="rgb(25,25,25)" font-family='Liberation Sans' textLength="14.10" lengthAdjust="spacingAndGlyphs">RTL</text>
<line x1="291.00" y1="251.6" x2="296.20" y2="251.6" stroke="rgb(172,172,172)" stroke-width="1.5"/>
<text x="300.60" y="256.4" font-size="13.6" fill="rgb(25,25,25)" font-family='Liberation Sans'>&lt;</text>
<text x="310.10" y="256.6" font-size="10" fill="rgb(25,25,25)" font-family='Liberation Sans' textLength="4.6" lengthAdjust="spacingAndGlyphs">&#949;</text>
<text x="315.50" y="259.9" font-size="8.2" fill="rgb(25,25,25)" font-family='Liberation Sans' textLength="14" lengthAdjust="spacingAndGlyphs">H/L</text>
<text x="331.60" y="255.8" font-size="13.6" fill="rgb(25,25,25)" font-family='Liberation Sans'>&gt;</text>
<text x="333.00" y="264.1" font-size="9.3" fill="rgb(25,25,25)" font-family='Liberation Sans' textLength="13.00" lengthAdjust="spacingAndGlyphs">LTL</text>
<text x="348.10" y="256.4" font-size="13.6" fill="rgb(25,25,25)" font-family='Liberation Sans'>&lt;</text>
<text x="357.60" y="256.6" font-size="10" fill="rgb(25,25,25)" font-family='Liberation Sans' textLength="4.6" lengthAdjust="spacingAndGlyphs">&#949;</text>
<text x="363.00" y="259.9" font-size="8.2" fill="rgb(25,25,25)" font-family='Liberation Sans' textLength="14" lengthAdjust="spacingAndGlyphs">H/L</text>
<text x="379.10" y="255.8" font-size="13.6" fill="rgb(25,25,25)" font-family='Liberation Sans'>&gt;</text>
<text x="380.50" y="264.1" font-size="9.3" fill="rgb(25,25,25)" font-family='Liberation Sans' textLength="12.80" lengthAdjust="spacingAndGlyphs">RH</text>
<line x1="393.40" y1="251.6" x2="398.60" y2="251.6" stroke="rgb(172,172,172)" stroke-width="1.5"/>
<text x="403.00" y="256.4" font-size="13.6" fill="rgb(25,25,25)" font-family='Liberation Sans'>&lt;</text>
<text x="412.50" y="256.6" font-size="10" fill="rgb(25,25,25)" font-family='Liberation Sans' textLength="4.6" lengthAdjust="spacingAndGlyphs">&#949;</text>
<text x="417.90" y="259.9" font-size="8.2" fill="rgb(25,25,25)" font-family='Liberation Sans' textLength="14" lengthAdjust="spacingAndGlyphs">H/L</text>
<text x="434.00" y="255.8" font-size="13.6" fill="rgb(25,25,25)" font-family='Liberation Sans'>&gt;</text>
<text x="435.40" y="264.1" font-size="9.3" fill="rgb(25,25,25)" font-family='Liberation Sans' textLength="11.40" lengthAdjust="spacingAndGlyphs">LH</text>
<rect x="489.00" y="159.75" width="188.60" height="3.90" fill="rgb(214,214,214)"/>
<line x1="489.00" y1="159.20" x2="677.60" y2="159.20" stroke="rgb(192,192,192)" stroke-width="1.1" stroke-dasharray="5,3"/>
<line x1="489.00" y1="164.20" x2="677.60" y2="164.20" stroke="rgb(192,192,192)" stroke-width="1.1" stroke-dasharray="5,3"/>
<line x1="504.80" y1="117.50" x2="504.80" y2="134.40" stroke="rgb(226,32,48)" stroke-width="1" stroke-dasharray="2.8,1.5" stroke-opacity="0.8"/>
<line x1="504.80" y1="149.30" x2="504.80" y2="164.70" stroke="rgb(226,32,48)" stroke-width="1" stroke-dasharray="2.8,1.5" stroke-opacity="0.8"/>
<line x1="498.20" y1="117.50" x2="511.40" y2="117.50" stroke="rgb(226,32,48)" stroke-width="1.1" stroke-opacity="0.7"/>
<line x1="498.20" y1="164.70" x2="511.40" y2="164.70" stroke="rgb(226,32,48)" stroke-width="1.1" stroke-opacity="0.7"/>
<rect x="492.20" y="134.40" width="25.20" height="14.90" fill="none" stroke="rgb(226,32,48)" stroke-width="1.2"/>
<line x1="492.20" y1="145.30" x2="517.40" y2="145.30" stroke="rgb(226,32,48)" stroke-width="1.2"/>
<rect x="503.50" y="141.70" width="2.6" height="2.6" fill="rgb(220,0,30)"/>
<rect x="503.60" y="116.30" width="2.4" height="2.4" fill="rgb(220,0,30)"/>
<rect x="503.50" y="171.20" width="2.6" height="2.6" fill="rgb(220,0,30)"/>
<line x1="536.30" y1="144.30" x2="536.30" y2="154.30" stroke="rgb(35,115,65)" stroke-width="1" stroke-dasharray="2.8,1.5" stroke-opacity="0.8"/>
<line x1="536.30" y1="165.30" x2="536.30" y2="174.40" stroke="rgb(35,115,65)" stroke-width="1" stroke-dasharray="2.8,1.5" stroke-opacity="0.8"/>
<line x1="529.70" y1="144.30" x2="542.90" y2="144.30" stroke="rgb(35,115,65)" stroke-width="1.1" stroke-opacity="0.7"/>
<line x1="529.70" y1="174.40" x2="542.90" y2="174.40" stroke="rgb(35,115,65)" stroke-width="1.1" stroke-opacity="0.7"/>
<rect x="523.55" y="154.30" width="25.50" height="11.00" fill="none" stroke="rgb(35,115,65)" stroke-width="1.2"/>
<line x1="523.55" y1="159.00" x2="549.05" y2="159.00" stroke="rgb(35,115,65)" stroke-width="1.2"/>
<rect x="535.00" y="158.90" width="2.6" height="2.6" fill="rgb(0,85,40)"/>
<rect x="535.10" y="143.10" width="2.4" height="2.4" fill="rgb(0,85,40)"/>
<rect x="535.10" y="173.20" width="2.4" height="2.4" fill="rgb(0,85,40)"/>
<line x1="567.80" y1="147.40" x2="567.80" y2="157.20" stroke="rgb(45,115,195)" stroke-width="1" stroke-dasharray="2.8,1.5" stroke-opacity="0.8"/>
<line x1="567.80" y1="164.20" x2="567.80" y2="172.50" stroke="rgb(45,115,195)" stroke-width="1" stroke-dasharray="2.8,1.5" stroke-opacity="0.8"/>
<line x1="561.20" y1="147.40" x2="574.40" y2="147.40" stroke="rgb(45,115,195)" stroke-width="1.1" stroke-opacity="0.7"/>
<line x1="561.20" y1="172.50" x2="574.40" y2="172.50" stroke="rgb(45,115,195)" stroke-width="1.1" stroke-opacity="0.7"/>
<rect x="554.95" y="157.20" width="25.70" height="7.00" fill="none" stroke="rgb(45,115,195)" stroke-width="1.2"/>
<line x1="554.95" y1="160.20" x2="580.65" y2="160.20" stroke="rgb(45,115,195)" stroke-width="1.2"/>
<rect x="566.50" y="159.20" width="2.6" height="2.6" fill="rgb(25,100,190)"/>
<rect x="566.60" y="146.20" width="2.4" height="2.4" fill="rgb(25,100,190)"/>
<rect x="566.50" y="179.80" width="2.6" height="2.6" fill="rgb(25,100,190)"/>
<line x1="599.10" y1="184.40" x2="599.10" y2="198.30" stroke="rgb(226,32,48)" stroke-width="1" stroke-dasharray="2.8,1.5" stroke-opacity="0.8"/>
<line x1="599.10" y1="217.10" x2="599.10" y2="227.50" stroke="rgb(226,32,48)" stroke-width="1" stroke-dasharray="2.8,1.5" stroke-opacity="0.8"/>
<line x1="592.50" y1="184.40" x2="605.70" y2="184.40" stroke="rgb(226,32,48)" stroke-width="1.1" stroke-opacity="0.7"/>
<line x1="592.50" y1="227.50" x2="605.70" y2="227.50" stroke="rgb(226,32,48)" stroke-width="1.1" stroke-opacity="0.7"/>
<rect x="586.20" y="198.30" width="25.80" height="18.80" fill="none" stroke="rgb(226,32,48)" stroke-width="1.2"/>
<line x1="586.20" y1="209.40" x2="612.00" y2="209.40" stroke="rgb(226,32,48)" stroke-width="1.2"/>
<rect x="597.80" y="205.90" width="2.6" height="2.6" fill="rgb(220,0,30)"/>
<rect x="597.90" y="183.20" width="2.4" height="2.4" fill="rgb(220,0,30)"/>
<rect x="597.90" y="226.30" width="2.4" height="2.4" fill="rgb(220,0,30)"/>
<line x1="630.80" y1="151.20" x2="630.80" y2="157.50" stroke="rgb(35,115,65)" stroke-width="1" stroke-dasharray="2.8,1.5" stroke-opacity="0.8"/>
<line x1="630.80" y1="168.10" x2="630.80" y2="181.30" stroke="rgb(35,115,65)" stroke-width="1" stroke-dasharray="2.8,1.5" stroke-opacity="0.8"/>
<line x1="624.20" y1="151.20" x2="637.40" y2="151.20" stroke="rgb(35,115,65)" stroke-width="1.1" stroke-opacity="0.7"/>
<line x1="624.20" y1="181.30" x2="637.40" y2="181.30" stroke="rgb(35,115,65)" stroke-width="1.1" stroke-opacity="0.7"/>
<rect x="618.00" y="157.50" width="25.60" height="10.60" fill="none" stroke="rgb(35,115,65)" stroke-width="1.2"/>
<line x1="618.00" y1="161.20" x2="643.60" y2="161.20" stroke="rgb(35,115,65)" stroke-width="1.2"/>
<rect x="629.50" y="160.50" width="2.6" height="2.6" fill="rgb(0,85,40)"/>
<rect x="629.60" y="180.10" width="2.4" height="2.4" fill="rgb(0,85,40)"/>
<rect x="629.50" y="139.90" width="2.6" height="2.6" fill="rgb(0,85,40)"/>
<line x1="662.00" y1="146.30" x2="662.00" y2="156.60" stroke="rgb(45,115,195)" stroke-width="1" stroke-dasharray="2.8,1.5" stroke-opacity="0.8"/>
<line x1="662.00" y1="166.70" x2="662.00" y2="174.90" stroke="rgb(45,115,195)" stroke-width="1" stroke-dasharray="2.8,1.5" stroke-opacity="0.8"/>
<line x1="655.40" y1="146.30" x2="668.60" y2="146.30" stroke="rgb(45,115,195)" stroke-width="1.1" stroke-opacity="0.7"/>
<line x1="655.40" y1="174.90" x2="668.60" y2="174.90" stroke="rgb(45,115,195)" stroke-width="1.1" stroke-opacity="0.7"/>
<rect x="649.25" y="156.60" width="25.50" height="10.10" fill="none" stroke="rgb(45,115,195)" stroke-width="1.2"/>
<line x1="649.25" y1="161.50" x2="674.75" y2="161.50" stroke="rgb(45,115,195)" stroke-width="1.2"/>
<rect x="660.70" y="160.90" width="2.6" height="2.6" fill="rgb(25,100,190)"/>
<rect x="660.80" y="145.10" width="2.4" height="2.4" fill="rgb(25,100,190)"/>
<rect x="660.80" y="173.70" width="2.4" height="2.4" fill="rgb(25,100,190)"/>
<line x1="489.00" y1="97.50" x2="489.00" y2="238.50" stroke="rgb(190,190,190)" stroke-width="1.90"/>
<line x1="487.50" y1="238.50" x2="678.20" y2="238.50" stroke="rgb(120,120,120)" stroke-width="1.4"/>
<line x1="677.60" y1="108.50" x2="677.60" y2="238.50" stroke="rgb(110,110,110)" stroke-width="1.2"/>
<line x1="583.30" y1="85.90" x2="583.30" y2="238.50" stroke="rgb(60,60,60)" stroke-width="1.2"/>
<line x1="512.80" y1="93.4" x2="652.60" y2="93.4" stroke="rgb(95,95,95)" stroke-width="1"/>
<line x1="485.80" y1="105.40" x2="489.00" y2="105.40" stroke="rgb(60,60,60)" stroke-width="1"/>
<line x1="485.80" y1="124.40" x2="489.00" y2="124.40" stroke="rgb(60,60,60)" stroke-width="1"/>
<line x1="485.80" y1="143.40" x2="489.00" y2="143.40" stroke="rgb(60,60,60)" stroke-width="1"/>
<line x1="485.80" y1="162.40" x2="489.00" y2="162.40" stroke="rgb(60,60,60)" stroke-width="1"/>
<line x1="485.80" y1="181.40" x2="489.00" y2="181.40" stroke="rgb(60,60,60)" stroke-width="1"/>
<line x1="485.80" y1="200.40" x2="489.00" y2="200.40" stroke="rgb(60,60,60)" stroke-width="1"/>
<line x1="485.80" y1="219.40" x2="489.00" y2="219.40" stroke="rgb(60,60,60)" stroke-width="1"/>
<line x1="487.40" y1="114.90" x2="489.00" y2="114.90" stroke="rgb(90,90,90)" stroke-width="0.9"/>
<line x1="487.40" y1="133.90" x2="489.00" y2="133.90" stroke="rgb(90,90,90)" stroke-width="0.9"/>
<line x1="487.40" y1="152.90" x2="489.00" y2="152.90" stroke="rgb(90,90,90)" stroke-width="0.9"/>
<line x1="487.40" y1="171.90" x2="489.00" y2="171.90" stroke="rgb(90,90,90)" stroke-width="0.9"/>
<line x1="487.40" y1="190.90" x2="489.00" y2="190.90" stroke="rgb(90,90,90)" stroke-width="0.9"/>
<line x1="487.40" y1="209.90" x2="489.00" y2="209.90" stroke="rgb(90,90,90)" stroke-width="0.9"/>
<line x1="487.40" y1="228.90" x2="489.00" y2="228.90" stroke="rgb(90,90,90)" stroke-width="0.9"/>
<text x="484.50" y="106.10" font-size="15.2" text-anchor="end" fill="rgb(22,22,22)" font-family='Liberation Sans' textLength="15.60" lengthAdjust="spacingAndGlyphs" >30</text>
<text x="484.50" y="127.50" font-size="15.2" text-anchor="end" fill="rgb(22,22,22)" font-family='Liberation Sans' textLength="15.60" lengthAdjust="spacingAndGlyphs" >20</text>
<text x="484.50" y="149.40" font-size="15.2" text-anchor="end" fill="rgb(22,22,22)" font-family='Liberation Sans' textLength="15.00" lengthAdjust="spacingAndGlyphs" >10</text>
<text x="484.50" y="167.20" font-size="15.2" text-anchor="end" fill="rgb(22,22,22)" font-family='Liberation Sans' textLength="7.90" lengthAdjust="spacingAndGlyphs" >0</text>
<text x="484.50" y="192.40" font-size="15.2" text-anchor="end" fill="rgb(22,22,22)" font-family='Liberation Sans' textLength="19.60" lengthAdjust="spacingAndGlyphs" >-10</text>
<text x="484.50" y="214.20" font-size="15.2" text-anchor="end" fill="rgb(22,22,22)" font-family='Liberation Sans' textLength="19.60" lengthAdjust="spacingAndGlyphs" >-20</text>
<text x="484.50" y="235.70" font-size="15.2" text-anchor="end" fill="rgb(22,22,22)" font-family='Liberation Sans' textLength="19.60" lengthAdjust="spacingAndGlyphs" >-30</text>
<text x="487.60" y="94.50" font-size="14.4" fill="rgb(20,20,20)" font-family='Liberation Sans' textLength="15.80" lengthAdjust="spacingAndGlyphs">AS</text>
<text x="655.10" y="103.1" font-size="22" fill="rgb(20,20,20)" font-family='Liberation Sans' stroke="white" stroke-width="0.55" paint-order="fill stroke">(</text>
<text x="661.00" y="103.1" font-size="22" fill="rgb(20,20,20)" font-family='Liberation Sans'  stroke="white" stroke-width="0.55" paint-order="fill stroke" textLength="11.80" lengthAdjust="spacingAndGlyphs">c</text>
<text x="674.50" y="103.1" font-size="22" fill="rgb(20,20,20)" font-family='Liberation Sans' stroke="white" stroke-width="0.55" paint-order="fill stroke">)</text>
<text x="481.90" y="256.4" font-size="13.6" fill="rgb(25,25,25)" font-family='Liberation Sans'>&lt;</text>
<text x="491.40" y="256.6" font-size="10" fill="rgb(25,25,25)" font-family='Liberation Sans' textLength="4.6" lengthAdjust="spacingAndGlyphs">&#949;</text>
<text x="496.80" y="259.9" font-size="8.2" fill="rgb(25,25,25)" font-family='Liberation Sans' textLength="14" lengthAdjust="spacingAndGlyphs">H/L</text>
<text x="512.90" y="255.8" font-size="13.6" fill="rgb(25,25,25)" font-family='Liberation Sans'>&gt;</text>
<text x="514.30" y="264.1" font-size="9.3" fill="rgb(25,25,25)" font-family='Liberation Sans' textLength="14.10" lengthAdjust="spacingAndGlyphs">RTL</text>
<line x1="527.20" y1="251.6" x2="532.40" y2="251.6" stroke="rgb(172,172,172)" stroke-width="1.5"/>
<text x="536.80" y="256.4" font-size="13.6" fill="rgb(25,25,25)" font-family='Liberation Sans'>&lt;</text>
<text x="546.30" y="256.6" font-size="10" fill="rgb(25,25,25)" font-family='Liberation Sans' textLength="4.6" lengthAdjust="spacingAndGlyphs">&#949;</text>
<text x="551.70" y="259.9" font-size="8.2" fill="rgb(25,25,25)" font-family='Liberation Sans' textLength="14" lengthAdjust="spacingAndGlyphs">H/L</text>
<text x="567.80" y="255.8" font-size="13.6" fill="rgb(25,25,25)" font-family='Liberation Sans'>&gt;</text>
<text x="569.20" y="264.1" font-size="9.3" fill="rgb(25,25,25)" font-family='Liberation Sans' textLength="13.00" lengthAdjust="spacingAndGlyphs">LTL</text>
<text x="586.90" y="256.4" font-size="13.6" fill="rgb(25,25,25)" font-family='Liberation Sans'>&lt;</text>
<text x="596.40" y="256.6" font-size="10" fill="rgb(25,25,25)" font-family='Liberation Sans' textLength="4.6" lengthAdjust="spacingAndGlyphs">&#949;</text>
<text x="601.80" y="259.9" font-size="8.2" fill="rgb(25,25,25)" font-family='Liberation Sans' textLength="14" lengthAdjust="spacingAndGlyphs">H/L</text>
<text x="617.90" y="255.8" font-size="13.6" fill="rgb(25,25,25)" font-family='Liberation Sans'>&gt;</text>
<text x="619.30" y="264.1" font-size="9.3" fill="rgb(25,25,25)" font-family='Liberation Sans' textLength="12.80" lengthAdjust="spacingAndGlyphs">RH</text>
<line x1="632.20" y1="251.6" x2="637.40" y2="251.6" stroke="rgb(172,172,172)" stroke-width="1.5"/>
<text x="641.80" y="256.4" font-size="13.6" fill="rgb(25,25,25)" font-family='Liberation Sans'>&lt;</text>
<text x="651.30" y="256.6" font-size="10" fill="rgb(25,25,25)" font-family='Liberation Sans' textLength="4.6" lengthAdjust="spacingAndGlyphs">&#949;</text>
<text x="656.70" y="259.9" font-size="8.2" fill="rgb(25,25,25)" font-family='Liberation Sans' textLength="14" lengthAdjust="spacingAndGlyphs">H/L</text>
<text x="672.80" y="255.8" font-size="13.6" fill="rgb(25,25,25)" font-family='Liberation Sans'>&gt;</text>
<text x="674.20" y="264.1" font-size="9.3" fill="rgb(25,25,25)" font-family='Liberation Sans' textLength="11.40" lengthAdjust="spacingAndGlyphs">LH</text>
</svg>
</body></html>
